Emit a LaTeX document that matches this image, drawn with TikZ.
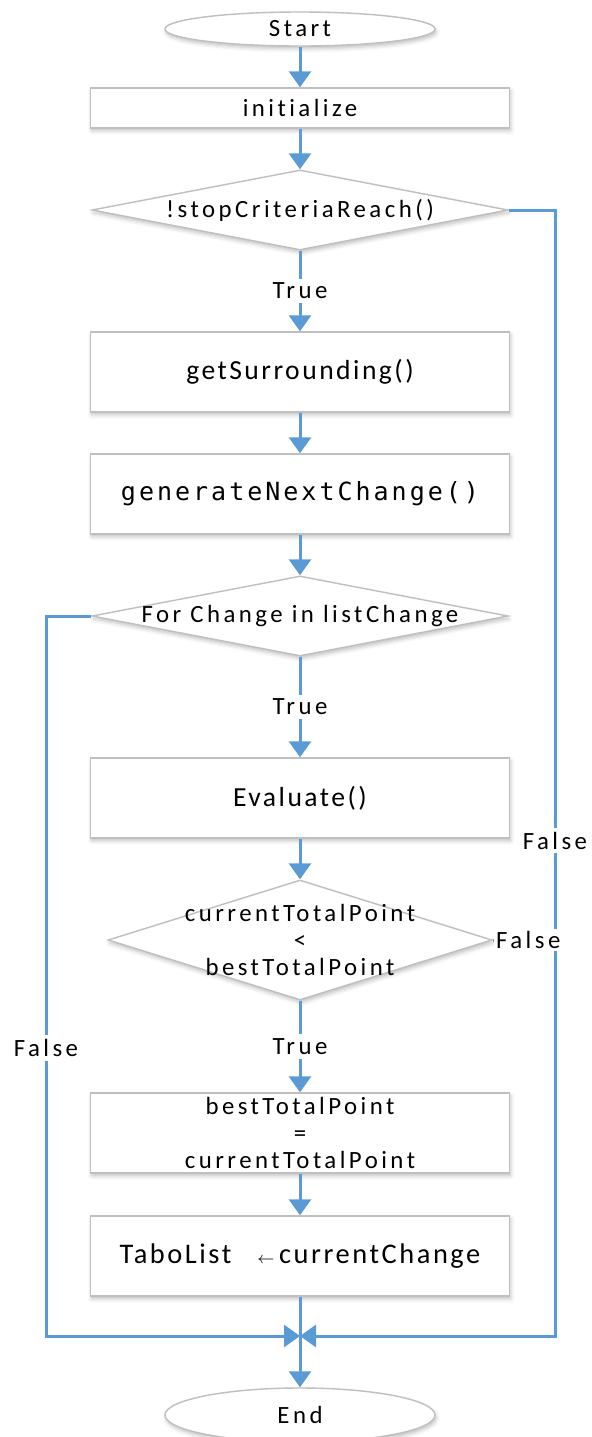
\documentclass[tikz,border=0pt]{standalone}
\usepackage{fontspec}
\setmainfont{Carlito}[LetterSpace=14, Ligatures=NoCommon]
\newfontfamily\bigfont{Carlito}[LetterSpace=9, Ligatures=NoCommon]
\newfontfamily\codefont{DejaVu Sans Mono}[LetterSpace=12]
\usepackage{xcolor}
\definecolor{FlowBlue}{HTML}{5B9BD5}
\definecolor{BoxGray}{HTML}{BFBFBF}
\usetikzlibrary{shapes.geometric,arrows.meta,shadows.blur}

\begin{document}
\begin{tikzpicture}[x=0.5pt, y=-0.5pt,
  font=\fontsize{12.4}{13.5}\selectfont,
  base/.style={draw=BoxGray, line width=0.7pt, fill=white, align=center, inner sep=0pt,
    blur shadow={shadow xshift=0.6pt, shadow yshift=-1.4pt, shadow blur radius=2pt, shadow opacity=25}},
  terminal/.style={base, ellipse, minimum width=135pt},
  process/.style={base, rectangle, minimum width=209.5pt, minimum height=40pt},
  decision/.style={base, diamond, minimum width=208pt, minimum height=40pt},
  flow/.style={FlowBlue, line width=1.5pt, -{Triangle[width=11pt, length=8pt]}},
  wire/.style={FlowBlue, line width=1.5pt},
  answer/.style={fill=white, text=black, inner sep=2pt}]
  \useasboundingbox (0,0) rectangle (592,1437);

  % --- Noeuds ---
  \node[terminal, minimum height=17pt] (start) at (300,29) {Start};
  \node[process, minimum height=20pt] (init) at (300,108) {initialize};
  \node[decision, label=center:{!stopCriteriaReach()}] (stop) at (300,210) {};
  \node[process] (surr) at (300,372) {\bigfont\fontsize{13.8}{16}\selectfont getSurrounding()};
  \node[process] (next) at (300,494) {\codefont\fontsize{12.5}{14}\selectfont generateNextChange()};
  \node[decision, label=center:{For Change in listChange}] (loop) at (300,616) {};
  \node[process] (eval) at (300,798) {\bigfont\fontsize{13.8}{16}\selectfont Evaluate()};
  \node[decision, minimum width=192pt, minimum height=60pt,
    label={[align=center]center:{currentTotalPoint\\<\\bestTotalPoint}}] (cmp) at (300,940) {};
  \node[process] (best) at (300,1133) {bestTotalPoint\\=\\currentTotalPoint};
  \node[process] (tabo) at (300,1256)
    {\bigfont\fontsize{14.2}{16}\selectfont TaboList\hspace{13pt}{\footnotesize$\leftarrow$}\,currentChange};
  \node[terminal, minimum height=27pt] (end) at (300,1415) {End};

  \coordinate (join) at (300,1336);
  \coordinate (rightfoot) at (555,1336);
  \coordinate (leftfoot) at (46,1336);

  % --- Ligne principale ---
  \draw[flow] (start) -- (init);
  \draw[flow] (init) -- (stop);
  \draw[flow] (stop) -- node[answer] {True} (surr);
  \draw[flow] (surr) -- (next);
  \draw[flow] (next) -- (loop);
  \draw[flow] (loop) -- node[answer] {True} (eval);
  \draw[flow] (eval) -- (cmp);
  \draw[flow] (cmp) -- node[answer] {True} (best);
  \draw[flow] (best) -- (tabo);
  \draw[flow] (tabo) -- (end);

  % --- Retours False ---
  \draw[flow] (stop.east) -| node[answer, pos=0.78] {False} (rightfoot) -- (join);
  \draw[flow] (loop.west) -| node[answer, pos=0.8] {False} (leftfoot) -- (join);
  \draw[wire] (cmp.east) -- (cmp.east -| rightfoot)
    node[answer, pos=0, anchor=west, inner sep=1pt] {False};
\end{tikzpicture}
\end{document}
